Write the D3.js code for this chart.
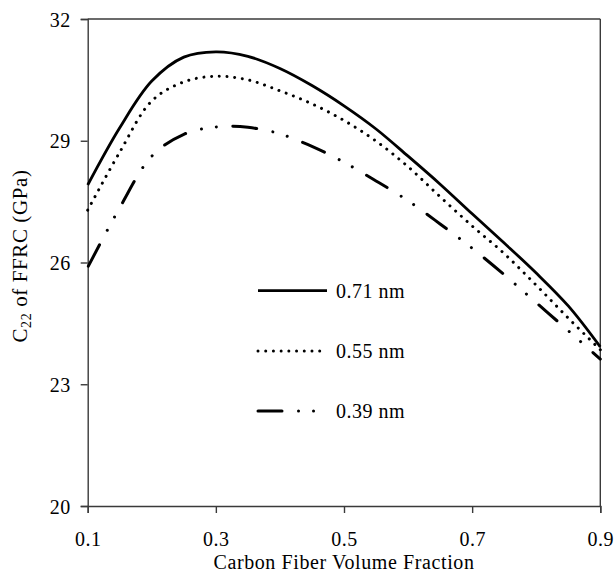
<!DOCTYPE html>
<html>
<head>
<meta charset="utf-8">
<script src="https://cdn.jsdelivr.net/npm/d3@7"></script>
<style>
html,body{margin:0;padding:0;background:#fff;}
svg{display:block;}
text{font-family:"Liberation Serif","Times New Roman",serif;fill:#000;}
</style>
</head>
<body>
<svg id="chart" width="616" height="574"></svg>
<script>
// Data
const xValues = [0.1,0.15,0.2,0.25,0.3,0.35,0.4,0.45,0.5,0.55,0.6,0.65,0.7,0.75,0.8,0.85,0.9];
const series071 = [27.91,29.32,30.47,31.06,31.19,31.08,30.78,30.36,29.86,29.29,28.62,27.93,27.20,26.48,25.74,24.93,23.92];
const series055 = [27.29,28.72,29.98,30.45,30.59,30.50,30.23,29.91,29.50,28.99,28.36,27.62,26.90,26.22,25.44,24.63,23.85];
const series039 = [25.88,27.35,28.62,29.16,29.34,29.33,29.17,28.86,28.47,28.01,27.52,26.95,26.35,25.70,25.01,24.32,23.62];
const seriesNames = ["0.71 nm","0.55 nm","0.39 nm"];
const xTicks = [0.1,0.3,0.5,0.7,0.9];
const xTickLabels = ["0.1","0.3","0.5","0.7","0.9"];
const yTicks = [20,23,26,29,32];
const xTitle = "Carbon Fiber Volume Fraction";

(function(){
const svg = d3.select("#chart");
const mLeft = 87.7, mRight = 600.3, mTop = 19, mBottom = 506;
const x = d3.scaleLinear().domain([0.1,0.9]).range([mLeft,mRight]);
const y = d3.scaleLinear().domain([20,32]).range([mBottom,mTop]);

const axisColor = "#3a3a3a";
const fontSize = 20;

// y axis
const yAxis = svg.append("g").attr("transform",`translate(${mLeft},0)`)
  .call(d3.axisLeft(y).tickValues(yTicks).tickSize(7).tickPadding(10).tickFormat(d3.format("d")));
yAxis.select(".domain").attr("stroke",axisColor).attr("stroke-width",1.4);
yAxis.selectAll(".tick line").attr("stroke",axisColor).attr("stroke-width",1.4);
yAxis.selectAll(".tick text").attr("font-family","Liberation Serif").attr("font-size",fontSize)
  .attr("letter-spacing","0.5px").attr("fill","#000").attr("dy","0.36em");

// x axis
const xAxis = svg.append("g").attr("transform",`translate(0,${mBottom})`)
  .call(d3.axisBottom(x).tickValues(xTicks).tickSize(7).tickPadding(19).tickFormat((d,i)=>xTickLabels[i]));
xAxis.select(".domain").attr("stroke",axisColor).attr("stroke-width",1.4);
xAxis.selectAll(".tick line").attr("stroke",axisColor).attr("stroke-width",1.4);
xAxis.selectAll(".tick text").attr("font-family","Liberation Serif").attr("font-size",fontSize)
  .attr("letter-spacing","0.5px").attr("fill","#000");

// frame top and right
svg.append("line").attr("x1",mLeft).attr("x2",mRight).attr("y1",mTop).attr("y2",mTop)
  .attr("stroke",axisColor).attr("stroke-width",1.4);
svg.append("line").attr("x1",mRight).attr("x2",mRight).attr("y1",mTop).attr("y2",mBottom)
  .attr("stroke",axisColor).attr("stroke-width",1.4);

// series
const styles = [
  {dash:null, width:2.8, cap:"butt", offset:0},
  {dash:"0.01 7.7", width:3, cap:"round", offset:0},
  {dash:"24 16.5 0.01 15 0.01 16.5", width:3, cap:"round", offset:-1.5}
];
const allSeries = [series071, series055, series039];
const line = d3.line().x(d=>x(d[0])).y(d=>y(d[1])).curve(d3.curveCatmullRom.alpha(0.5));
allSeries.forEach((s,i)=>{
  const pts = xValues.map((xv,j)=>[xv,s[j]]);
  const p = svg.append("path").attr("d",line(pts)).attr("fill","none")
    .attr("stroke","#000").attr("stroke-width",styles[i].width)
    .attr("stroke-linecap",styles[i].cap).attr("stroke-linejoin","round");
  if(styles[i].dash){p.attr("stroke-dasharray",styles[i].dash).attr("stroke-dashoffset",styles[i].offset);}
});

// legend
const legendY = [290.7, 351, 411];
seriesNames.forEach((name,i)=>{
  const l = svg.append("line").attr("x1",258).attr("x2",327).attr("y1",legendY[i]).attr("y2",legendY[i])
    .attr("stroke","#000").attr("stroke-width",styles[i].width).attr("stroke-linecap",styles[i].cap);
  if(styles[i].dash){l.attr("stroke-dasharray",styles[i].dash);}
  svg.append("text").attr("x",336).attr("y",legendY[i]).attr("dy","0.36em")
    .attr("font-size",fontSize).attr("letter-spacing","0.5px").text(name);
});

// x title
svg.append("text").attr("x",(mLeft+mRight)/2).attr("y",569).attr("text-anchor","middle")
  .attr("font-size",fontSize).attr("letter-spacing","0.6px").text(xTitle);

// y title with subscript
const yt = svg.append("text").attr("transform","translate(27,256) rotate(-90)")
  .attr("text-anchor","middle").attr("font-size",21).attr("letter-spacing","0.6px");
yt.append("tspan").text("C");
yt.append("tspan").attr("font-size",14).attr("dy",4).text("22");
yt.append("tspan").attr("dy",-4).text(" of FFRC (GPa)");
})();
</script>
</body>
</html>
